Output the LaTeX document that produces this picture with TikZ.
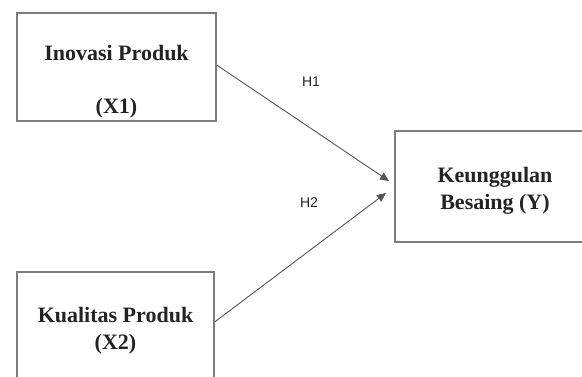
\documentclass[tikz,border=0pt]{standalone}
\usepackage{fontspec}
\setmainfont{Liberation Serif}
\newfontfamily\labelfont{Liberation Sans}
\usepackage{tikz}
\usetikzlibrary{arrows.meta}
\definecolor{boxgrey}{RGB}{125,125,125}
\definecolor{linegrey}{RGB}{85,85,85}
\definecolor{textdark}{RGB}{35,35,35}
\tikzset{
  flow/.style={-{Triangle[length=9pt,width=8pt]}, line width=0.9pt, draw=linegrey},
  box/.style={
    draw=boxgrey,
    line width=1.3pt,
    fill=white,
    align=center,
    inner sep=0pt,
    text=textdark,
    font=\fontsize{22}{27}\selectfont\bfseries
  },
  hlabel/.style={font=\labelfont\fontsize{14}{16}\selectfont, text=textdark}
}
\begin{document}
\begin{tikzpicture}[x=1pt, y=-1pt]
  \clip (0,0) rectangle (582,377);
  \fill[white] (0,0) rectangle (582,377);

  \node[box, minimum width=199pt, minimum height=108pt] (inovasi) at (116.5,67) {};
  \node[box, draw=none, fill=none] (inovasitxt) at (116.5,82) {Inovasi Produk\\[26pt](X1)};
  \node[box, minimum width=197pt, minimum height=112pt] (kualitas) at (115.5,328) {};
  \node[box, draw=none, fill=none] (kualitastxt) at (115.5,331) {Kualitas Produk\\(X2)};
  \node[box, minimum width=200pt, minimum height=111pt] (keunggulan) at (495,186.5) {};
  \node[box, draw=none, fill=none] (keunggulantxt) at (495,190.5) {Keunggulan\\Besaing (Y)};

  \coordinate (tip1) at (389,181);
  \coordinate (tip2) at (386,193);
  \draw[flow] (inovasi.east |- 0,65) -- (tip1);
  \draw[flow] (kualitas.east |- 0,322) -- (tip2);

  \node[hlabel] (h1) at (311,82) {H1};
  \node[hlabel] (h2) at (309,203) {H2};

\end{tikzpicture}
\end{document}
